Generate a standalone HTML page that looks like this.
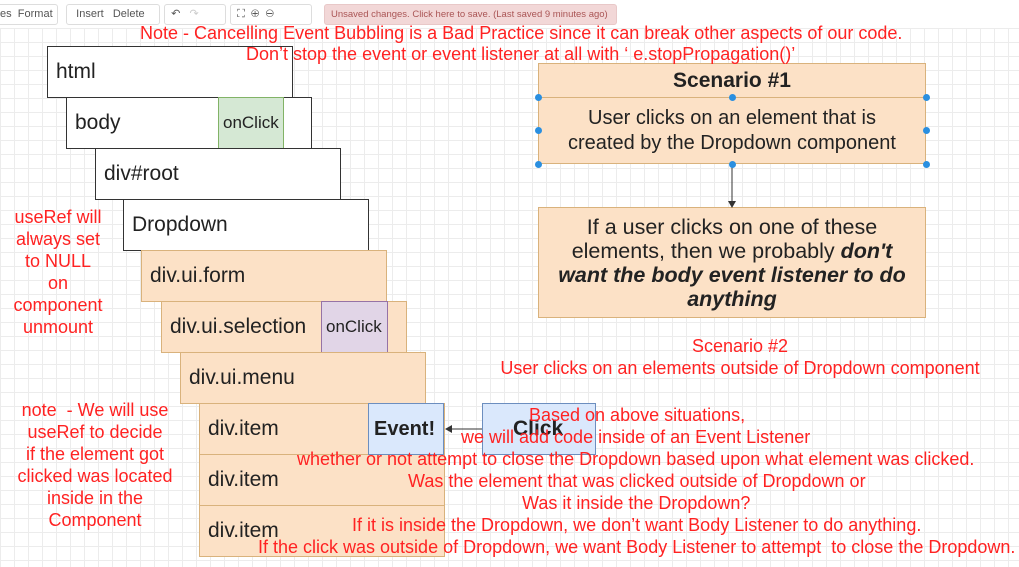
<!DOCTYPE html>
<html><head><meta charset="utf-8"><style>
body{margin:0;width:1019px;height:567px;overflow:hidden;font-family:"Liberation Sans",sans-serif;position:relative;
background-color:#fff;background-image:linear-gradient(#ececec 1px,transparent 1px),linear-gradient(90deg,#ececec 1px,transparent 1px);background-size:14px 14px;}
.tb{position:absolute;top:0;left:0;width:1019px;height:28px;background:#fff;}
.grp{position:absolute;top:4px;height:19px;border:1px solid #ddd;border-radius:3px;font-size:11px;color:#555;line-height:19px;background:#fff}
.b{position:absolute;box-sizing:border-box;border:1px solid #333;background:#fff;font-size:21px;color:#222;padding-left:8px;display:flex;align-items:center}
.o{background:#fce1c6;border-color:#d9b27c}
.r{position:absolute;color:#f22;font-size:18px;white-space:nowrap;text-align:center;z-index:5}
.dot{position:absolute;width:7px;height:7px;border-radius:50%;background:#2a8fe0;z-index:3}
</style></head><body>
<div class="tb">
<div class="grp" style="left:-4px;width:60px">&nbsp;es &nbsp;Format</div>
<div class="grp" style="left:66px;width:92px">&nbsp;&nbsp;&nbsp;Insert &nbsp;&nbsp;Delete</div>
<div class="grp" style="left:164px;width:60px">&nbsp;&nbsp;↶ &nbsp;&nbsp;<span style="color:#ccc">↷</span></div>
<div class="grp" style="left:230px;width:80px">&nbsp;&nbsp;⛶ &nbsp;⊕ &nbsp;⊖</div>
<div class="grp" style="left:324px;width:285px;background:#f2d7d7;color:#a55;border-color:#e8c8c8;font-size:9.5px;padding-left:6px">Unsaved changes. Click here to save. (Last saved 9 minutes ago)</div>
</div>
<div class="r" style="left:140px;top:23px;width:762px">Note - Cancelling Event Bubbling is a Bad Practice since it can break other aspects of our code.</div>
<div class="r" style="left:246px;top:44px">Don’t stop the event or event listener at all with ‘ e.stopPropagation()’</div>

<div class="b" style="left:47px;top:46px;width:246px;height:52px">html</div>
<div class="b" style="left:66px;top:97px;width:246px;height:52px">body</div>
<div class="b" style="left:218px;top:97px;width:66px;height:52px;background:#d5e8d4;border-color:#82b366;font-size:17px;padding-left:4px">onClick</div>
<div class="b" style="left:95px;top:148px;width:246px;height:52px">div#root</div>
<div class="b" style="left:123px;top:199px;width:246px;height:52px">Dropdown</div>
<div class="b o" style="left:141px;top:250px;width:246px;height:52px">div.ui.form</div>
<div class="b o" style="left:161px;top:301px;width:246px;height:52px">div.ui.selection</div>
<div class="b" style="left:321px;top:301px;width:67px;height:52px;background:#e1d5e7;border-color:#9673a6;font-size:17px;padding-left:4px">onClick</div>
<div class="b o" style="left:180px;top:352px;width:246px;height:52px">div.ui.menu</div>
<div class="b o" style="left:199px;top:403px;width:246px;height:52px">div.item</div>
<div class="b o" style="left:199px;top:454px;width:246px;height:52px">div.item</div>
<div class="b o" style="left:199px;top:505px;width:246px;height:52px">div.item</div>
<div class="b" style="left:368px;top:403px;width:76px;height:52px;background:#dae8fc;border-color:#6c8ebf;font-weight:bold;font-size:20px;padding-left:5px">Event!</div>
<div class="b" style="left:482px;top:403px;width:114px;height:52px;background:#dae8fc;border-color:#6c8ebf;font-weight:bold;font-size:21px;padding-left:30px">Click</div>
<svg style="position:absolute;left:0;top:0;z-index:2" width="1019" height="567"><line x1="482" y1="429" x2="450" y2="429" stroke="#333"/><path d="M445 429 L452 425 L452 433Z" fill="#333"/>
<line x1="732" y1="164" x2="732" y2="203" stroke="#333"/><path d="M732 208 L728 201 L736 201Z" fill="#333"/></svg>

<div class="b o" style="left:538px;top:63px;width:388px;height:35px;justify-content:center;padding:0;font-weight:bold;font-size:21px">Scenario #1</div>
<div class="b o" style="left:538px;top:97px;width:388px;height:67px;display:block;padding:8px 0 0;text-align:center;font-size:20px;line-height:25px">User clicks on an element that is<br>created by the Dropdown component</div>
<div class="dot" style="left:535px;top:94px"></div><div class="dot" style="left:729px;top:94px"></div><div class="dot" style="left:923px;top:94px"></div>
<div class="dot" style="left:535px;top:127px"></div><div class="dot" style="left:923px;top:127px"></div>
<div class="dot" style="left:535px;top:161px"></div><div class="dot" style="left:729px;top:161px"></div><div class="dot" style="left:923px;top:161px"></div>
<div class="b o" style="left:538px;top:207px;width:388px;height:111px;display:block;padding:7px 0 0;text-align:center;font-size:21.5px;line-height:24px">If a user clicks on one of these<br>elements, then we probably <b><i>don't</i></b><br><b><i>want the body event listener to do<br>anything</i></b></div>

<div class="r" style="left:8px;top:206px;width:100px;line-height:22px">useRef will<br>always set<br>to NULL<br>on<br>component<br>unmount</div>
<div class="r" style="left:14px;top:399px;width:162px;line-height:22px">note &nbsp;- We will use<br>useRef to decide<br>if the element got<br>clicked was located<br>inside in the<br>Component</div>
<div class="r" style="left:490px;top:335px;width:500px;line-height:22px">Scenario #2<br>User clicks on an elements outside of Dropdown component</div>
<div class="r" style="left:529px;top:405px">Based on above situations,</div>
<div class="r" style="left:461px;top:427px">we will add code inside of an Event Listener</div>
<div class="r" style="left:297px;top:449px">whether or not attempt to close the Dropdown based upon what element was clicked.</div>
<div class="r" style="left:408px;top:471px">Was the element that was clicked outside of Dropdown or</div>
<div class="r" style="left:522px;top:493px">Was it inside the Dropdown?</div>
<div class="r" style="left:352px;top:515px">If it is inside the Dropdown, we don’t want Body Listener to do anything.</div>
<div class="r" style="left:258px;top:537px">If the click was outside of Dropdown, we want Body Listener to attempt &nbsp;to close the Dropdown.</div>
</body></html>
